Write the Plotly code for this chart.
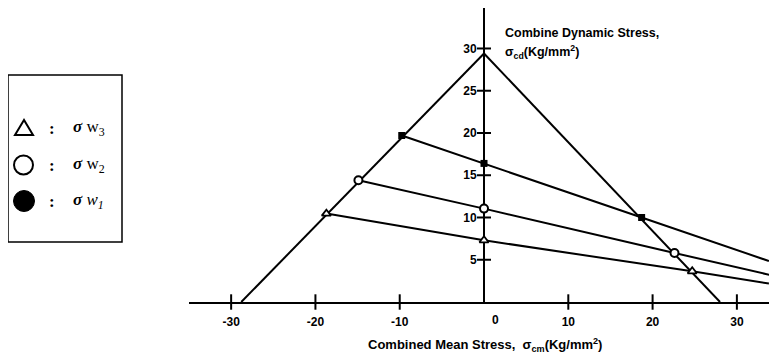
import plotly.graph_objects as go

# ---- data ----
left_bound_x = [-28.8, 0.0]
left_bound_y = [0.0, 29.4]
right_bound_x = [0.0, 28.0]
right_bound_y = [29.4, 0.0]

w1_x = [-9.76, 0.0, 18.7, 33.8]
w1_y = [19.7, 16.4, 10.0, 4.85]
w2_x = [-14.9, 0.0, 22.6, 34.1]
w2_y = [14.4, 11.05, 5.8, 3.16]
w3_x = [-18.7, 0.0, 24.7, 33.8]
w3_y = [10.46, 7.3, 3.63, 2.18]

x_ticks = [-30, -20, -10, 10, 20, 30]
x_tick_labels = ["-30", "-20", "-10", "10", "20", "30"]
y_ticks = [5, 10, 15, 20, 25, 30]
y_tick_labels = ["5", "10", "15", "20", "25", "30"]
x_range = [-35.0, 34.76]
y_range = [0.0, 34.79]

# ---- layout geometry (pixels) ----
OFF = 8  # default page body margin
W, H = 777 - OFF, 358 - OFF
ML, MR, MT, MB = 189 - OFF, 0, 0, 56
PW = W - ML - MR
PH = H - MT - MB


def px(x):
    # x given in reference-window pixels
    return (x - OFF - ML) / PW


def py(y):
    return (H - MB - (y - OFF)) / PH


fig = go.Figure()
line_style = dict(color="black", width=2)

for xs, ys in [(left_bound_x, left_bound_y), (right_bound_x, right_bound_y),
               (w1_x, w1_y), (w2_x, w2_y), (w3_x, w3_y)]:
    fig.add_trace(go.Scatter(x=xs, y=ys, mode="lines", line=line_style,
                             hoverinfo="skip", showlegend=False))

# markers at intersections (exclude line end points)
fig.add_trace(go.Scatter(x=w1_x[:3], y=w1_y[:3], mode="markers",
                         marker=dict(symbol="square", size=7, color="black"),
                         showlegend=False))
fig.add_trace(go.Scatter(x=w2_x[:3], y=w2_y[:3], mode="markers",
                         marker=dict(symbol="circle", size=8, color="white",
                                     line=dict(color="black", width=2)),
                         showlegend=False))
fig.add_trace(go.Scatter(x=w3_x[:3], y=w3_y[:3], mode="markers",
                         marker=dict(symbol="triangle-up", size=8, color="white",
                                     line=dict(color="black", width=1.8)),
                         showlegend=False))

# crossing tick marks
fig.add_trace(go.Scatter(x=x_ticks, y=[0] * len(x_ticks), mode="markers",
                         marker=dict(symbol="line-ns", size=11,
                                     line=dict(color="black", width=2)),
                         cliponaxis=False, showlegend=False))
fig.add_trace(go.Scatter(x=[0] * len(y_ticks), y=y_ticks, mode="markers",
                         marker=dict(symbol="line-ew", size=10,
                                     line=dict(color="black", width=2)),
                         cliponaxis=False, showlegend=False))

tick_font = dict(family="Liberation Sans", size=12, color="black", weight="bold")

fig.update_layout(
    width=W, height=H,
    margin=dict(l=ML, r=MR, t=MT, b=MB, pad=0),
    paper_bgcolor="white", plot_bgcolor="white",
    showlegend=False,
    xaxis=dict(range=x_range, showgrid=False, zeroline=True, zerolinecolor="black",
               zerolinewidth=2, showline=True, linecolor="black", linewidth=2,
               tickmode="array", tickvals=x_ticks, ticktext=x_tick_labels,
               ticks="outside", ticklen=8, tickcolor="rgba(0,0,0,0)",
               tickfont=tick_font, fixedrange=True),
    yaxis=dict(range=y_range, showgrid=False, zeroline=False, showline=False,
               anchor="free", position=(0 - x_range[0]) / (x_range[1] - x_range[0]),
               tickmode="array", tickvals=y_ticks, ticktext=y_tick_labels,
               ticks="outside", ticklen=5, tickcolor="rgba(0,0,0,0)",
               tickfont=tick_font, fixedrange=True),
)

top_font = dict(family="Liberation Sans", size=12.5, color="black", weight="bold")
bot_font = dict(family="Liberation Sans", size=13, color="black", weight="bold")
annotations = [
    dict(x=0, y=0, xref="x", yref="y", text="0", showarrow=False,
         xshift=11, yshift=-18, font=tick_font),
    dict(x=px(503), y=py(33), xref="paper", yref="paper", xanchor="left",
         yanchor="middle", text="Combine Dynamic Stress,", showarrow=False,
         font=top_font),
    dict(x=px(503), y=py(52), xref="paper", yref="paper", xanchor="left",
         yanchor="middle", text="σ<sub>cd</sub>(Kg/mm<sup>2</sup>)", showarrow=False,
         font=top_font),
    dict(x=px(485), y=py(345), xref="paper", yref="paper", xanchor="center",
         yanchor="middle", text="Combined Mean Stress,  σ<sub>cm</sub>(Kg/mm<sup>2</sup>)",
         showarrow=False, font=bot_font),
]

# legend box content
legend_rows = [128, 165, 201]
legend_labels = ["w<sub>3</sub>", "w<sub>2</sub>", "<i>w<sub>1</sub></i>"]
leg_font = dict(family="Liberation Serif", size=17, color="black")
for yrow, lab in zip(legend_rows, legend_labels):
    annotations.append(dict(x=px(52), y=py(yrow), xref="paper", yref="paper",
                            text="<b>:</b>", showarrow=False, font=leg_font,
                            xanchor="center", yanchor="middle"))
    annotations.append(dict(x=px(71), y=py(yrow), xref="paper", yref="paper",
                            text="<b><i>σ</i></b> " + lab, showarrow=False,
                            font=leg_font, xanchor="left", yanchor="middle"))

shapes = [
    dict(type="rect", xref="paper", yref="paper", x0=px(8), x1=px(122),
         y0=py(75), y1=py(242), line=dict(color="black", width=1.5)),
    dict(type="path", xref="paper", yref="paper",
         path=f"M {px(24)} {py(120)} L {px(15)} {py(135)} L {px(33)} {py(135)} Z",
         line=dict(color="black", width=2)),
    dict(type="circle", xref="paper", yref="paper", x0=px(14), x1=px(33),
         y0=py(155.5), y1=py(174.5), line=dict(color="black", width=2)),
    dict(type="circle", xref="paper", yref="paper", x0=px(13.5), x1=px(34.5),
         y0=py(190.5), y1=py(211.5), line=dict(color="black", width=1),
         fillcolor="black"),
]

fig.update_layout(annotations=annotations, shapes=shapes)
fig.write_html("out.html")
